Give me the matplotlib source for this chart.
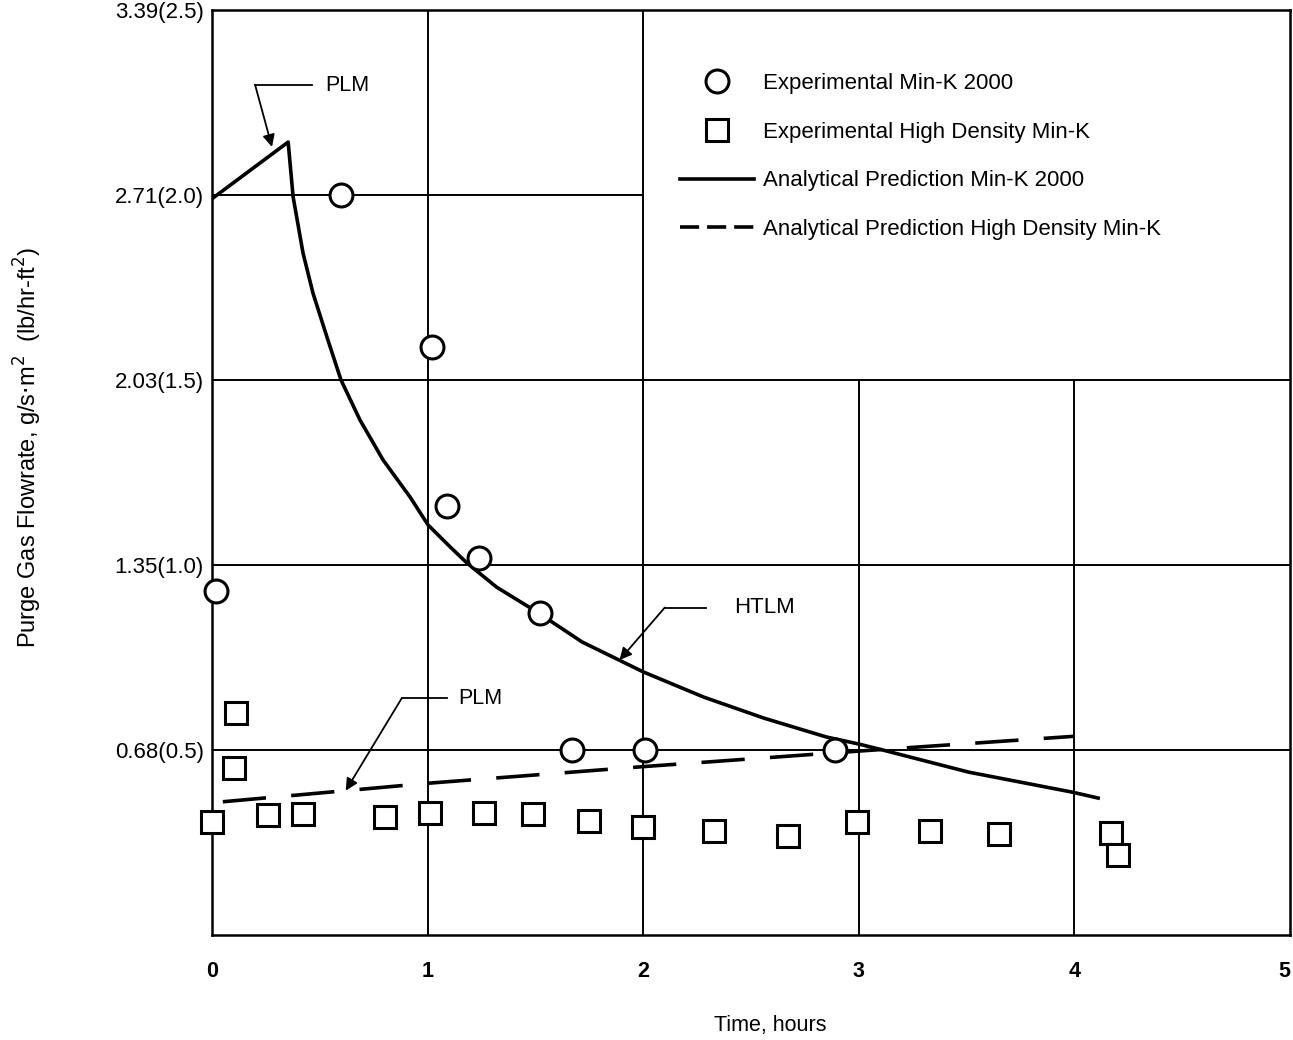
import matplotlib.pyplot as plt
from matplotlib.lines import Line2D

plt.rcParams['font.family'] = ['Liberation Sans', 'DejaVu Sans']

# Experimental Min-K 2000 (circles), time in hours, flowrate in lb/hr-ft2
exp_mink_t = [0.02, 0.60, 1.02, 1.09, 1.24, 1.52, 1.67, 2.01, 2.89]
exp_mink_q = [0.93, 2.00, 1.59, 1.16, 1.02, 0.87, 0.50, 0.50, 0.50]

# Experimental High Density Min-K (squares)
exp_hd_t = [0.0, 0.11, 0.10, 0.26, 0.42, 0.80, 1.01, 1.26, 1.49, 1.75, 2.0,
            2.33, 2.67, 2.99, 3.33, 3.65, 4.17, 4.20]
exp_hd_q = [0.305, 0.60, 0.45, 0.324, 0.327, 0.319, 0.33, 0.33, 0.327, 0.308,
            0.292, 0.281, 0.268, 0.305, 0.281, 0.273, 0.276, 0.216]

# Analytical prediction Min-K 2000 (solid)
ana_mink_t = [0, 0.353, 0.376, 0.422, 0.468, 0.533, 0.598, 0.686, 0.793, 0.918,
              1.002, 1.104, 1.183, 1.32, 1.507, 1.716, 2.0, 2.28, 2.56, 2.85,
              3.0, 3.11, 3.51, 3.99, 4.11]
ana_mink_q = [1.99, 2.143, 1.995, 1.843, 1.735, 1.616, 1.50, 1.392, 1.284, 1.184,
              1.108, 1.049, 1.005, 0.94, 0.873, 0.792, 0.711, 0.643, 0.586, 0.535,
              0.516, 0.50, 0.44, 0.386, 0.37]

# Analytical prediction High Density Min-K (dashed)
ana_hd_t = [0.05, 1.0, 2.0, 3.0, 4.0]
ana_hd_q = [0.36, 0.41, 0.455, 0.497, 0.537]

y_ticks = [0.5, 1.0, 1.5, 2.0, 2.5]
y_labels = ['0.68(0.5)', '1.35(1.0)', '2.03(1.5)', '2.71(2.0)', '3.39(2.5)']
x_ticks = [0, 1, 2, 3, 4, 5]

# partial grid of the original figure
h_grid = [(0.5, 0, 5), (1.0, 0, 5), (1.5, 0, 5), (2.0, 0, 2)]
v_grid = [(1, 0, 2.5), (2, 0, 2.5), (3, 0, 1.5), (4, 0, 1.5)]

fig = plt.figure(figsize=(12.93, 10.4), dpi=100)
ax = fig.add_axes([0.164, 0.101, 0.8337, 0.8894])

for y, x0, x1 in h_grid:
    ax.hlines(y, x0, x1, color='black', lw=1.4, zorder=1)
for x, y0, y1 in v_grid:
    ax.vlines(x, y0, y1, color='black', lw=1.4, zorder=1)

ax.plot(ana_mink_t, ana_mink_q, color='black', lw=2.6, zorder=2,
        solid_joinstyle='round')
ax.plot(ana_hd_t, ana_hd_q, color='black', lw=2.6, dashes=(12, 7), zorder=2)
ax.plot(exp_mink_t, exp_mink_q, 'o', ms=16.5, mfc='white', mec='black',
        mew=2.2, zorder=3, clip_on=False)
ax.plot(exp_hd_t, exp_hd_q, 's', ms=15.5, mfc='white', mec='black',
        mew=2.2, zorder=3, clip_on=False)

ax.set_xlim(0, 5)
ax.set_ylim(0, 2.5)
ax.set_xticks(x_ticks)
ax.set_xticklabels([str(v) for v in x_ticks], fontsize=15.5, fontweight='bold')
ax.get_xticklabels()[-1].set_horizontalalignment('right')
ax.set_yticks(y_ticks)
ax.set_yticklabels(y_labels, fontsize=16)
ax.tick_params(axis='x', length=0, pad=19)
ax.tick_params(axis='y', length=0, pad=6)
for s in ax.spines.values():
    s.set_linewidth(1.8)

fig.text(770 / 1293, 1 - 1025 / 1040, 'Time, hours', fontsize=15.5,
         ha='center', va='center')
fig.text(28 / 1293, 1 - 447 / 1040,
         'Purge Gas Flowrate, g/s$\\cdot$m$^2$  (lb/hr-ft$^2$)',
         fontsize=17, rotation=90, ha='center', va='center')

h_c = Line2D([], [], ls='none', marker='o', ms=16.5, mfc='white', mec='black', mew=2.2)
h_s = Line2D([], [], ls='none', marker='s', ms=15.5, mfc='white', mec='black', mew=2.2)
h_l = Line2D([], [], color='black', lw=2.6)
h_d = Line2D([], [], color='black', lw=2.6, dashes=(5.3, 2.2))
ax.legend([h_c, h_s, h_l, h_d],
          ['Experimental Min-K 2000', 'Experimental High Density Min-K',
           'Analytical Prediction Min-K 2000',
           'Analytical Prediction High Density Min-K'],
          loc='upper left', bbox_to_anchor=(0.4345, 0.932), frameon=False,
          fontsize=16, handlelength=3.3, handletextpad=0.4, labelspacing=1.25,
          borderpad=0, borderaxespad=0, numpoints=1)

arrow = dict(arrowstyle='-|>', color='black', lw=1.3, mutation_scale=18,
             shrinkA=0, shrinkB=0)

# upper PLM leader
ax.plot([0.2, 0.464], [2.297, 2.297], color='black', lw=1.3)
ax.annotate('', xy=(0.278, 2.13), xytext=(0.2, 2.297), arrowprops=arrow)
ax.text(0.524, 2.297, 'PLM', fontsize=15.5, va='center')

# HTLM leader
ax.plot([2.1, 2.29], [0.885, 0.885], color='black', lw=1.3)
ax.annotate('', xy=(1.89, 0.743), xytext=(2.1, 0.885), arrowprops=arrow)
ax.text(2.42, 0.885, 'HTLM', fontsize=16, va='center')

# lower PLM leader
ax.plot([0.88, 1.09], [0.64, 0.64], color='black', lw=1.3)
ax.annotate('', xy=(0.62, 0.39), xytext=(0.88, 0.64), arrowprops=arrow)
ax.text(1.14, 0.64, 'PLM', fontsize=15.5, va='center')

fig.savefig('out.png', dpi=100)
